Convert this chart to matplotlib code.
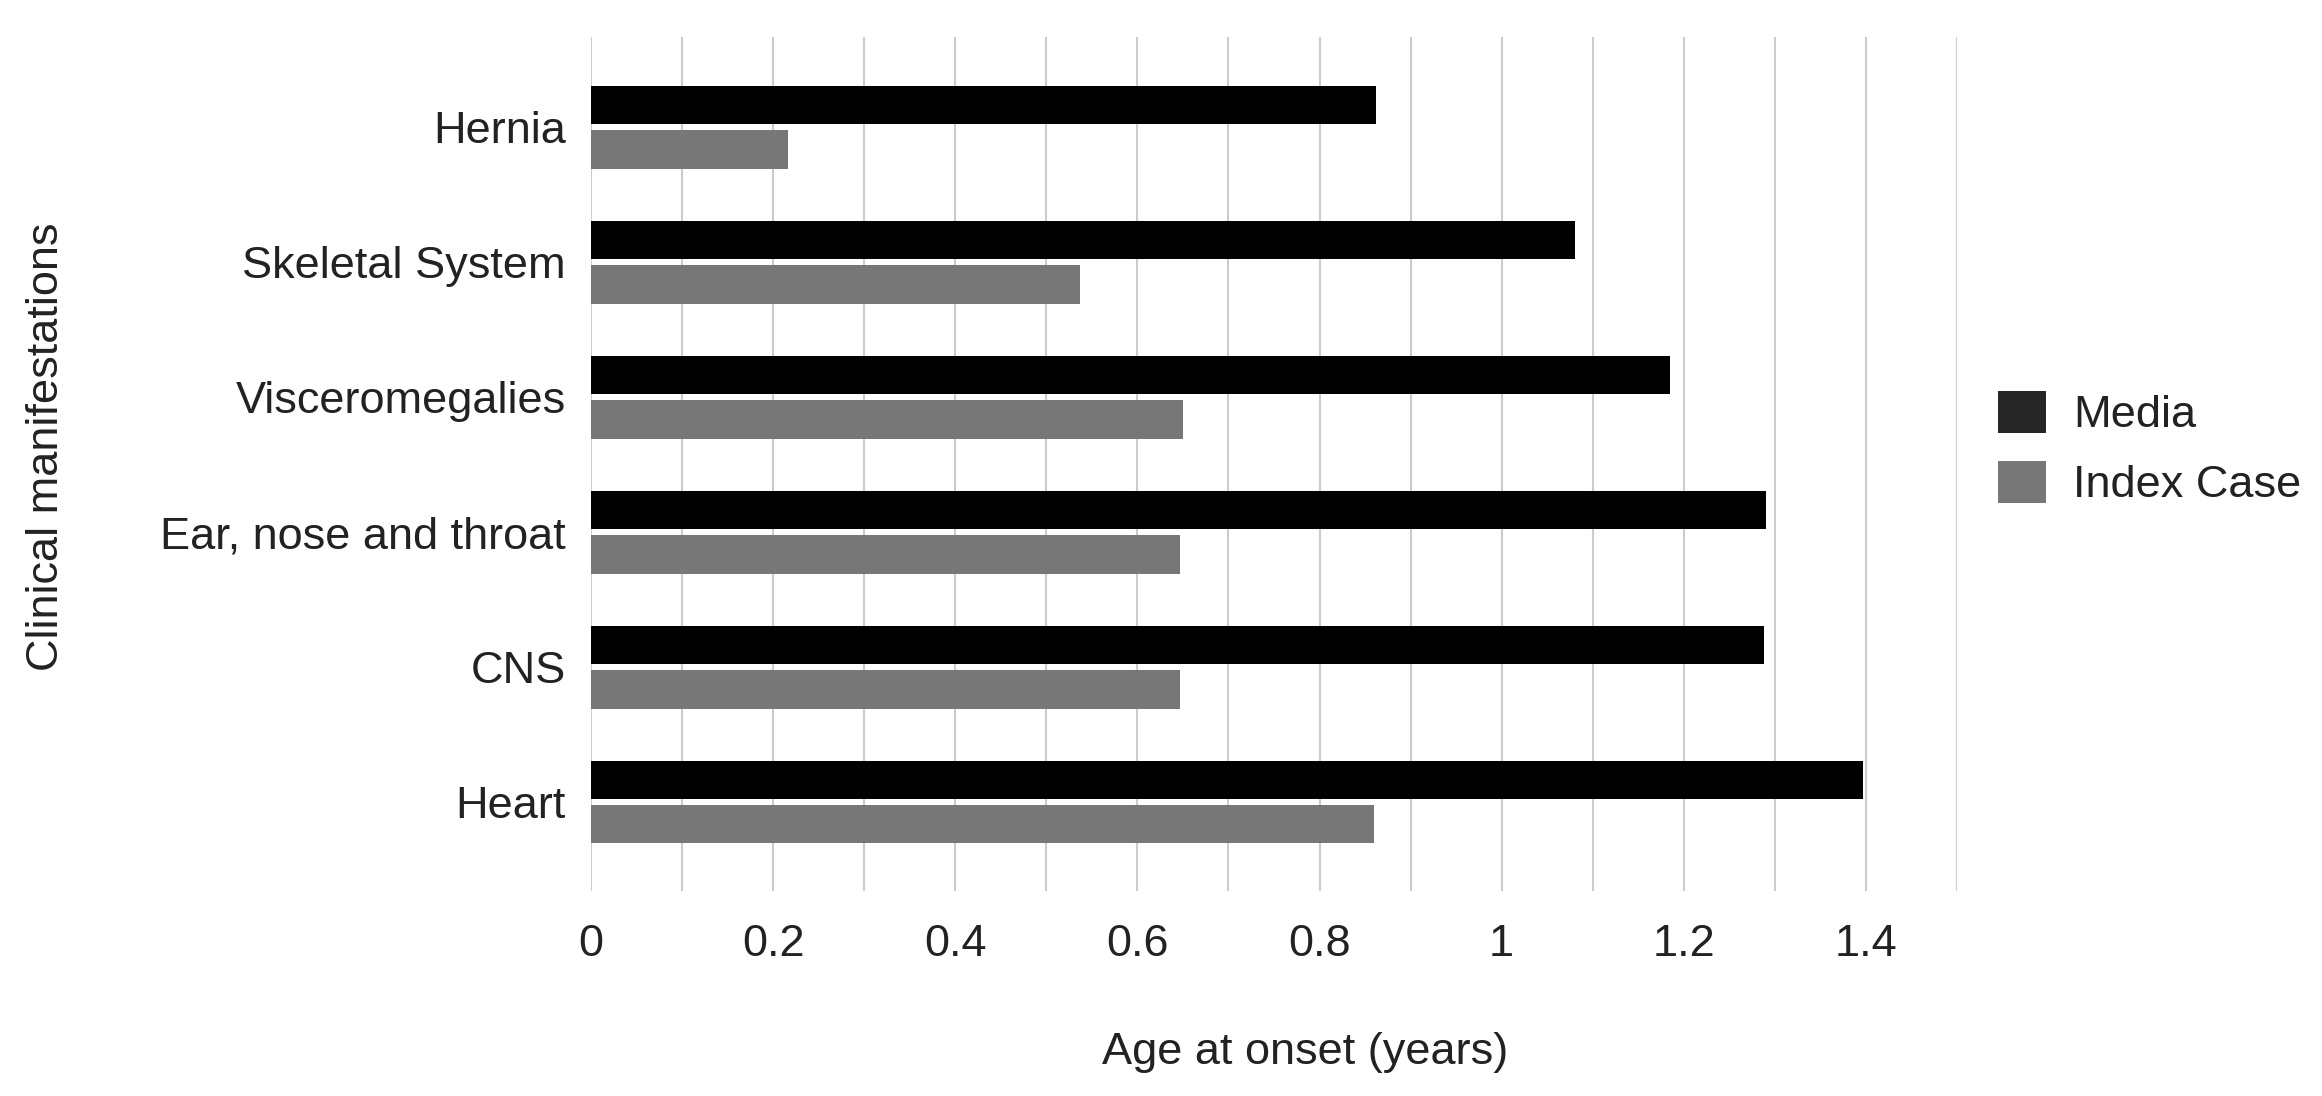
import matplotlib
matplotlib.use("Agg")
import matplotlib.pyplot as plt
from matplotlib.patches import Patch
from matplotlib.ticker import MultipleLocator
import numpy as np

categories = ["Hernia", "Skeletal System", "Visceromegalies",
              "Ear, nose and throat", "CNS", "Heart"]
media = [0.862, 1.080, 1.185, 1.290, 1.288, 1.397]
index_case = [0.216, 0.537, 0.650, 0.647, 0.647, 0.860]
series_names = ["Media", "Index Case"]
xticks = [0, 0.2, 0.4, 0.6, 0.8, 1.0, 1.2, 1.4]
xtick_labels = ["0", "0.2", "0.4", "0.6", "0.8", "1", "1.2", "1.4"]

plt.rcParams['font.family'] = ['Liberation Sans', 'DejaVu Sans']
FS = 32.5
TXT = "#222222"

fig = plt.figure(figsize=(23.22, 10.96), dpi=100)
left = 591 / 2322
right = 1957 / 2322
ax = fig.add_axes([left, 0.1870, right - left, 0.9662 - 0.1870])

y = np.arange(len(categories))
h = 0.285
off = 0.165
ax.barh(y - off, media, height=h, color="#000000", zorder=3)
ax.barh(y + off, index_case, height=h, color="#777777", zorder=3)

ax.set_xlim(0, 1.5)
ax.set_ylim(len(categories) - 1 + 0.66, -0.67)
ax.set_yticks(y)
ax.set_yticklabels(categories)
ax.set_xticks(xticks)
ax.set_xticklabels(xtick_labels)
ax.xaxis.set_minor_locator(MultipleLocator(0.1))
ax.grid(axis="x", which="both", color="#cccccc", linewidth=1.5, zorder=0)
ax.tick_params(axis="both", which="both", length=0, labelsize=FS, colors=TXT)
ax.tick_params(axis="x", pad=24)
ax.tick_params(axis="y", pad=18)
for s in ax.spines.values():
    s.set_visible(False)

ax.axvline(1.5, color="#cccccc", linewidth=1.5, zorder=0)

ax.set_xlabel("Age at onset (years)", fontsize=FS, color=TXT)
ax.xaxis.set_label_coords(0.523, -0.165)
ax.set_ylabel("Clinical manifestations", fontsize=FS, color=TXT)
ax.yaxis.set_label_coords(-0.3836, 0.52)

handles = [Patch(facecolor="#262626", edgecolor="none"),
           Patch(facecolor="#777777", edgecolor="none")]
fig.legend(handles, series_names, loc="center left",
           bbox_to_anchor=(0.8605, 0.5908), frameon=False,
           fontsize=FS, handlelength=1.07, handleheight=1.05,
           handletextpad=0.6, labelspacing=0.55, borderpad=0,
           borderaxespad=0, labelcolor=TXT)

fig.savefig("out.png", dpi=100, facecolor="white")
